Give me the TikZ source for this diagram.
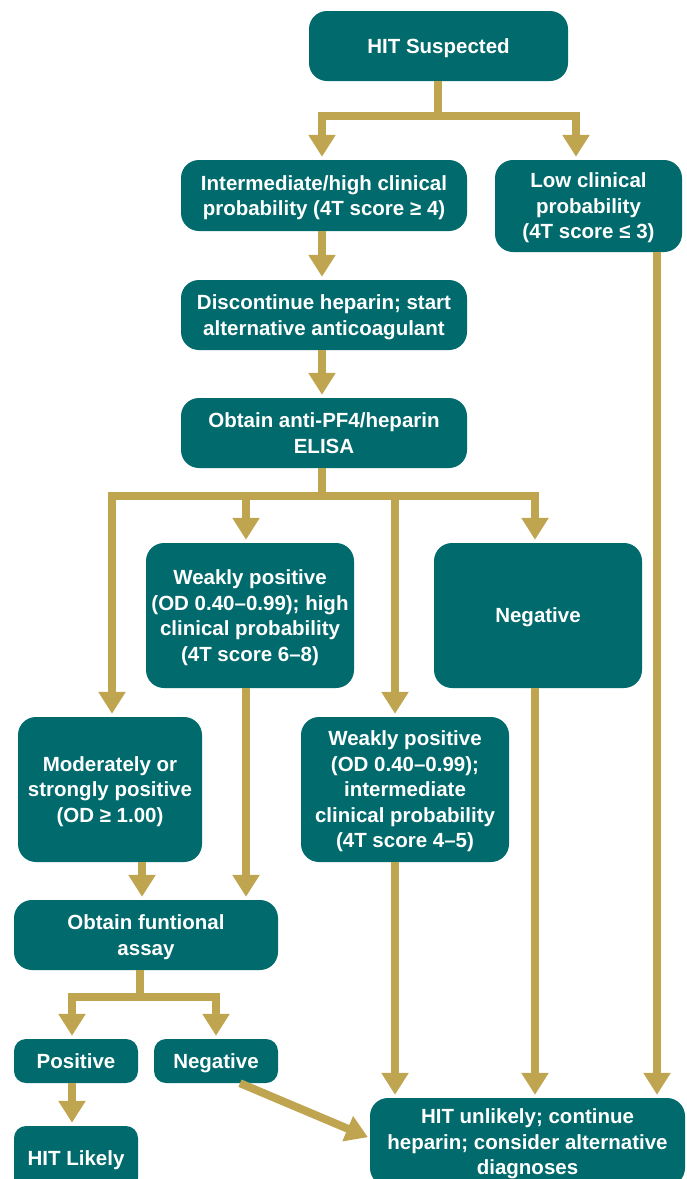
\documentclass[tikz,border=0pt]{standalone}
\usepackage{fontspec}
\setmainfont{Liberation Sans}
\usetikzlibrary{arrows.meta}
\definecolor{tealbox}{RGB}{0,106,108}
\definecolor{goldarr}{RGB}{191,165,80}
\newcommand{\sst}{\rule[-5.4pt]{0pt}{25.5pt}}
\begin{document}
\begin{tikzpicture}[x=1pt,y=-1pt,
  box/.style={fill=tealbox, rounded corners=18pt, text=white, align=center,
    font=\bfseries\fontsize{20.5}{25.5}\selectfont, inner sep=0pt},
  sbox/.style={box, rounded corners=12pt},
  conn/.style={draw=goldarr, line width=8pt},
  arr/.style={conn, -{Triangle[width=26pt,length=22pt]}, shorten >=3pt}]
\useasboundingbox (0,0) rectangle (687,1179);
\clip (0,0) rectangle (687,1179);

% nodes
\node[box, minimum width=259pt, minimum height=70pt] (hs) at (438.5,46) {\sst HIT Suspected\sst};
\node[box, minimum width=286pt, minimum height=71pt] (inter) at (324,195.5) {\sst Intermediate/high clinical\\probability (4T score ≥ 4)\sst};
\node[box, minimum width=187pt, minimum height=92pt] (low) at (588.5,206) {\sst Low clinical\\probability\\(4T score ≤ 3)\sst};
\node[box, minimum width=286pt, minimum height=70pt] (disc) at (324,315) {\sst Discontinue heparin; start\\alternative anticoagulant\sst};
\node[box, minimum width=286pt, minimum height=70pt] (pf) at (324,433) {\sst Obtain anti-PF4/heparin\\ELISA\sst};
\node[box, minimum width=208pt, minimum height=145pt] (wh) at (250,615.5) {\sst Weakly positive\\(OD 0.40–0.99); high\\clinical probability\\(4T score 6–8)\sst};
\node[box, minimum width=208pt, minimum height=145pt] (neg) at (538,615.5) {\sst Negative\sst};
\node[box, minimum width=184pt, minimum height=145pt] (mod) at (110,789.5) {\sst Moderately or\\strongly positive\\(OD ≥ 1.00)\sst};
\node[box, minimum width=208pt, minimum height=145pt] (wi) at (405,789.5) {\sst Weakly positive\\(OD 0.40–0.99);\\intermediate\\clinical probability\\(4T score 4–5)\sst};
\node[box, minimum width=264pt, minimum height=70pt] (fa) at (146,935) {\sst Obtain funtional\\assay\sst};
\node[sbox, minimum width=124pt, minimum height=44pt] (pos) at (76,1061) {\sst Positive\sst};
\node[sbox, minimum width=124pt, minimum height=44pt] (neg2) at (216,1061) {\sst Negative\sst};
\node[sbox, minimum width=124pt, minimum height=64pt] (likely) at (76,1158) {\sst HIT Likely\sst};
\node[box, minimum width=315pt, minimum height=88pt] (unlikely) at (527.5,1142) {\sst HIT unlikely; continue\\heparin; consider alternative\\diagnoses\sst};

% helper coordinates
\coordinate (bar1) at (438,116);
\coordinate (bar2) at (322,496);
\coordinate (bar3) at (140,997);
\coordinate (cA) at (112,0);
\coordinate (cB) at (246,0);
\coordinate (cC) at (395,0);
\coordinate (cD) at (535,0);
\coordinate (cE) at (657,0);
\coordinate (cL) at (322,0);
\coordinate (cR) at (576,0);
\coordinate (cM) at (142,0);
\coordinate (cP) at (72,0);
\coordinate (cN) at (216,0);

% connectors
\draw[conn] (bar1 |- hs.south) -- (bar1);
\draw[arr] (bar1) -| (cL |- inter.north);
\draw[arr] (bar1) -| (cR |- low.north);
\draw[arr] (cL |- inter.south) -- (cL |- disc.north);
\draw[arr] (cL |- disc.south) -- (cL |- pf.north);
\draw[conn] (cL |- pf.south) -- (bar2);
\draw[arr] (bar2) -| (cA |- mod.north);
\draw[arr] (bar2) -| (cD |- neg.north);
\draw[arr] (cB |- bar2) -- (cB |- wh.north);
\draw[arr] (cC |- bar2) -- (cC |- wi.north);
\draw[arr] (cM |- mod.south) -- (cM |- fa.north);
\draw[arr] (cB |- wh.south) -- (cB |- fa.north);
\draw[conn] (bar3 |- fa.south) -- (bar3);
\draw[arr] (bar3) -| (cP |- pos.north);
\draw[arr] (bar3) -| (cN |- neg2.north);
\draw[arr] (cP |- pos.south) -- (cP |- likely.north);
\draw[arr, shorten >=2pt] ([xshift=24pt]neg2.south) -- ([yshift=4pt]unlikely.west);
\draw[arr] (cC |- wi.south) -- (cC |- unlikely.north);
\draw[arr] (cD |- neg.south) -- (cD |- unlikely.north);
\draw[arr] (cE |- low.south) -- (cE |- unlikely.north);
\end{tikzpicture}
\end{document}
